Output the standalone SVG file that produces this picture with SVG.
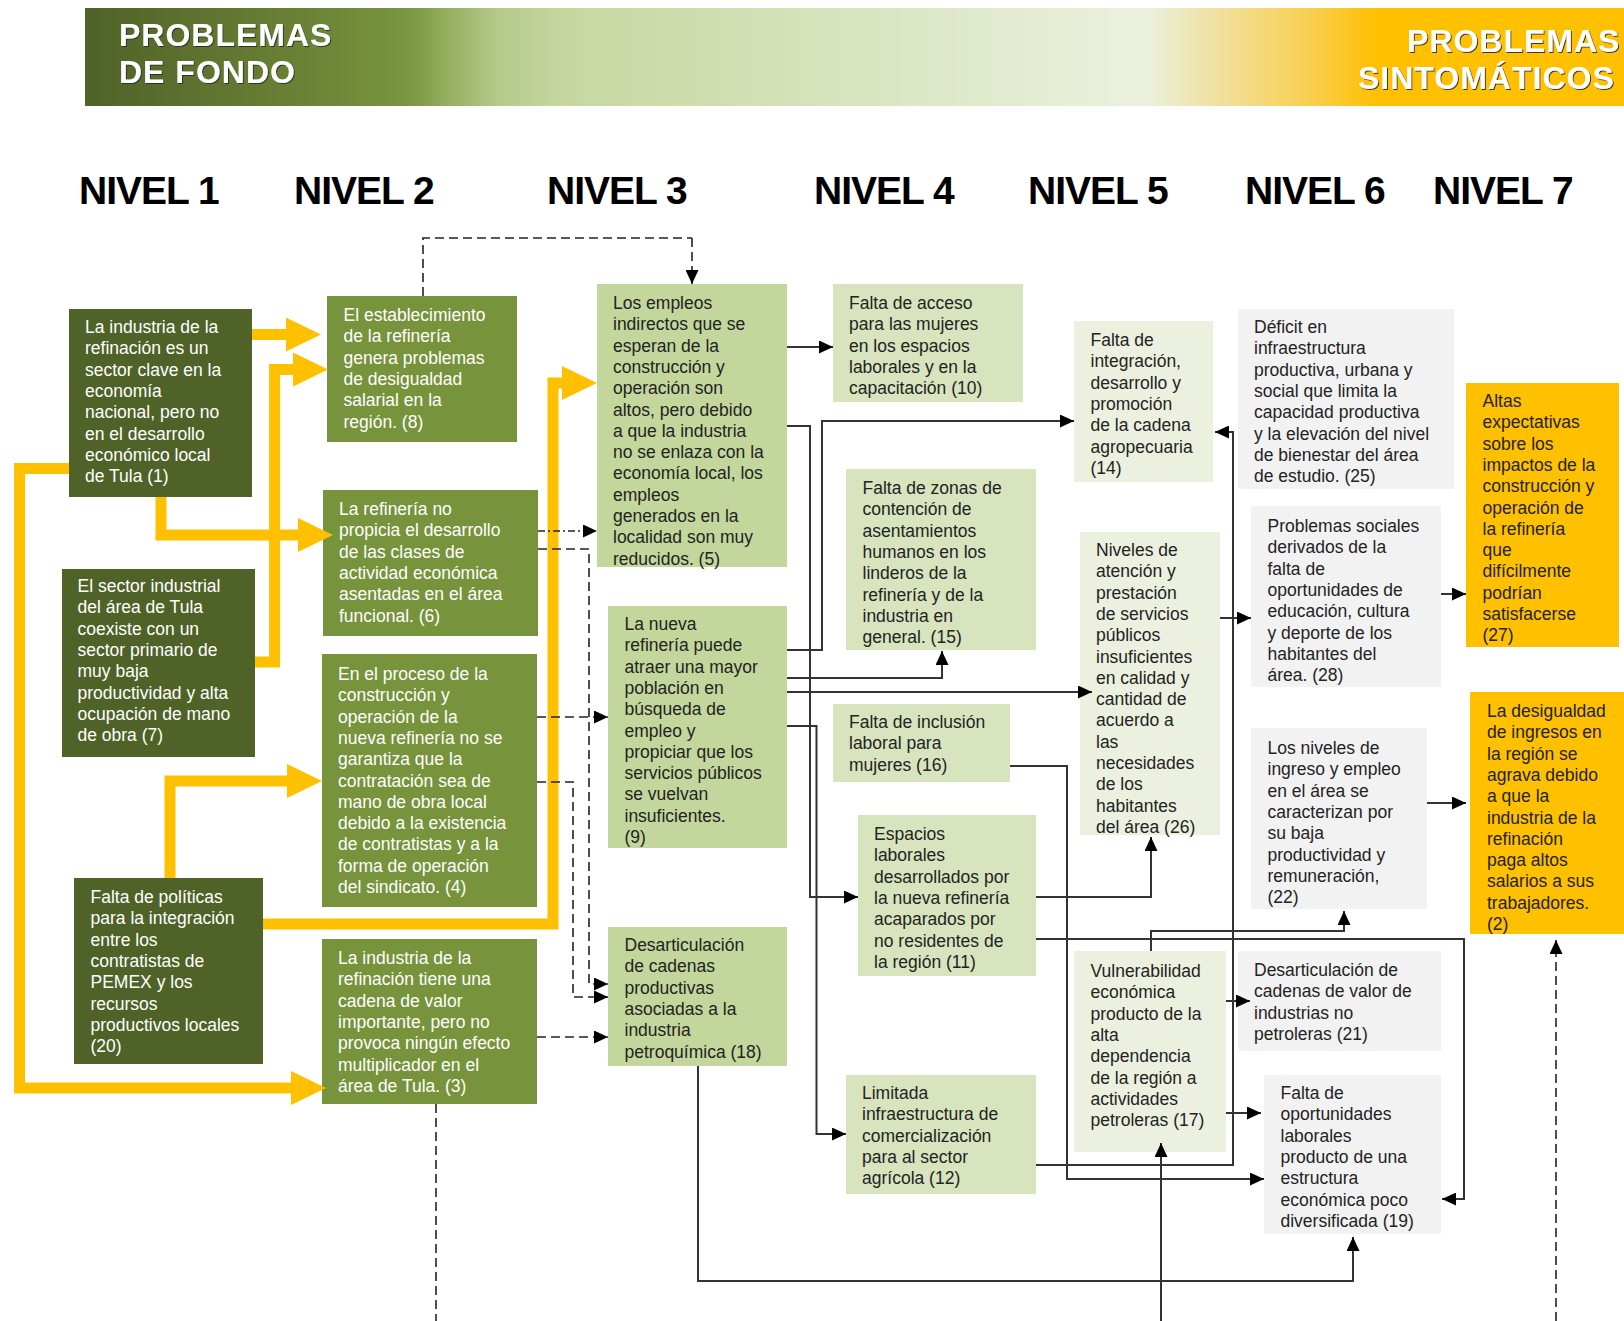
<svg xmlns="http://www.w3.org/2000/svg" width="1624" height="1321" viewBox="0 0 1624 1321">
<defs>
<linearGradient id="hdr" gradientUnits="userSpaceOnUse" x1="85" y1="0" x2="1624" y2="0">
<stop offset="0" stop-color="#4f6228"/>
<stop offset="0.15" stop-color="#6c8436"/>
<stop offset="0.21" stop-color="#7a9640"/>
<stop offset="0.234" stop-color="#93ad5c"/>
<stop offset="0.268" stop-color="#b5c98a"/>
<stop offset="0.312" stop-color="#c6d8a0"/>
<stop offset="0.48" stop-color="#d6e3bc"/>
<stop offset="0.69" stop-color="#ebf1de"/>
<stop offset="0.73" stop-color="#f0e2a6"/>
<stop offset="0.80" stop-color="#f9cd4a"/>
<stop offset="0.84" stop-color="#ffc000"/>
<stop offset="1" stop-color="#ffc000"/>
</linearGradient>
<marker id="ah" markerUnits="userSpaceOnUse" markerWidth="14" markerHeight="13" viewBox="0 0 14 13" refX="14" refY="6.5" orient="auto">
<path d="M0,0 L14,6.5 L0,13 z" fill="#000"/>
</marker>
<marker id="yh" markerUnits="userSpaceOnUse" markerWidth="35" markerHeight="34" viewBox="0 -17 35 34" refX="0" refY="0" orient="auto">
<path d="M0,-17 L35,0 L0,17 z" fill="#ffc000"/>
</marker>
<filter id="sh" x="-5%" y="-20%" width="110%" height="140%">
<feDropShadow dx="1" dy="1" stdDeviation="0.6" flood-color="#2a2a2a" flood-opacity="0.9"/>
</filter>
</defs>
<style>
.t{font-family:"Liberation Sans",Arial,sans-serif;font-size:17.5px}
.w{fill:#ffffff}
.k{fill:#232323}
.dk{fill:#4f6228}
.md{fill:#77933c}
.lg{fill:#c3d69b}
.lg2{fill:#d7e4bd}
.vlg{fill:#ebf1de}
.gr{fill:#f2f2f2}
.gd{fill:#ffc000}
.hd{font-family:"Liberation Sans",Arial,sans-serif;font-weight:bold;font-size:32px;fill:#ffffff;letter-spacing:1px;filter:url(#sh)}
.lv{font-family:"Liberation Sans",Arial,sans-serif;font-weight:bold;font-size:39px;letter-spacing:-1px;fill:#000}
.c{fill:none;stroke:#333;stroke-width:2;marker-end:url(#ah)}
.d{fill:none;stroke:#222;stroke-width:1.6;stroke-dasharray:9 5;marker-end:url(#ah)}
.dn{fill:none;stroke:#222;stroke-width:1.6;stroke-dasharray:9 5}
.dd{fill:none;stroke:#222;stroke-width:1.6;stroke-dasharray:7 3 2 3;marker-end:url(#ah)}
.y{fill:none;stroke:#ffc000;stroke-width:11;stroke-linejoin:miter;marker-end:url(#yh)}
</style>
<rect width="1624" height="1321" fill="#ffffff"/>
<g id="header">
<rect x="85" y="8" width="1539" height="98" fill="url(#hdr)"/>
<text class="hd" x="119" y="46">PROBLEMAS</text>
<text class="hd" x="119" y="83">DE FONDO</text>
<text class="hd" x="1407" y="52">PROBLEMAS</text>
<text class="hd" x="1358" y="89">SINTOMÁTICOS</text>
</g>
<g id="levels">
<text class="lv" x="79" y="204">NIVEL 1</text>
<text class="lv" x="294" y="204">NIVEL 2</text>
<text class="lv" x="547" y="204">NIVEL 3</text>
<text class="lv" x="814" y="204">NIVEL 4</text>
<text class="lv" x="1028" y="204">NIVEL 5</text>
<text class="lv" x="1245" y="204">NIVEL 6</text>
<text class="lv" x="1433" y="204">NIVEL 7</text>
</g>
<g id="nodes">
<g id="n1"><rect class="dk" x="69" y="309" width="183" height="188"/>
<text class="t w" x="85" y="333"><tspan x="85">La industria de la</tspan><tspan x="85" dy="21.3">refinación es un</tspan><tspan x="85" dy="21.3">sector clave  en la</tspan><tspan x="85" dy="21.3">economía</tspan><tspan x="85" dy="21.3">nacional, pero no</tspan><tspan x="85" dy="21.3">en el desarrollo</tspan><tspan x="85" dy="21.3">económico local</tspan><tspan x="85" dy="21.3">de Tula  (1)</tspan></text></g>
<g id="n8"><rect class="md" x="327" y="296" width="190" height="146"/>
<text class="t w" x="343.5" y="321"><tspan x="343.5">El establecimiento</tspan><tspan x="343.5" dy="21.3">de la refinería</tspan><tspan x="343.5" dy="21.3">genera problemas</tspan><tspan x="343.5" dy="21.3">de desigualdad</tspan><tspan x="343.5" dy="21.3">salarial en la</tspan><tspan x="343.5" dy="21.3">región.  (8)</tspan></text></g>
<g id="n6"><rect class="md" x="323" y="490" width="215" height="146"/>
<text class="t w" x="339" y="515"><tspan x="339">La refinería no</tspan><tspan x="339" dy="21.3">propicia el desarrollo</tspan><tspan x="339" dy="21.3">de las clases de</tspan><tspan x="339" dy="21.3">actividad económica</tspan><tspan x="339" dy="21.3">asentadas en el área</tspan><tspan x="339" dy="21.3">funcional.   (6)</tspan></text></g>
<g id="n7"><rect class="dk" x="62" y="569" width="193" height="188"/>
<text class="t w" x="77.5" y="592"><tspan x="77.5">El sector industrial</tspan><tspan x="77.5" dy="21.3">del área de Tula</tspan><tspan x="77.5" dy="21.3">coexiste con un</tspan><tspan x="77.5" dy="21.3">sector primario de</tspan><tspan x="77.5" dy="21.3">muy baja</tspan><tspan x="77.5" dy="21.3">productividad y alta</tspan><tspan x="77.5" dy="21.3">ocupación de mano</tspan><tspan x="77.5" dy="21.3">de obra (7)</tspan></text></g>
<g id="n4"><rect class="md" x="322" y="654" width="215" height="253"/>
<text class="t w" x="338" y="680"><tspan x="338">En el proceso de la</tspan><tspan x="338" dy="21.3">construcción y</tspan><tspan x="338" dy="21.3">operación  de la</tspan><tspan x="338" dy="21.3">nueva refinería no se</tspan><tspan x="338" dy="21.3">garantiza que la</tspan><tspan x="338" dy="21.3">contratación sea de</tspan><tspan x="338" dy="21.3">mano de obra local</tspan><tspan x="338" dy="21.3">debido a la existencia</tspan><tspan x="338" dy="21.3">de contratistas  y a la</tspan><tspan x="338" dy="21.3">forma de operación</tspan><tspan x="338" dy="21.3">del sindicato. (4)</tspan></text></g>
<g id="n20"><rect class="dk" x="74" y="878" width="189" height="186"/>
<text class="t w" x="90.5" y="903"><tspan x="90.5">Falta de políticas</tspan><tspan x="90.5" dy="21.3">para la integración</tspan><tspan x="90.5" dy="21.3">entre los</tspan><tspan x="90.5" dy="21.3">contratistas de</tspan><tspan x="90.5" dy="21.3">PEMEX y los</tspan><tspan x="90.5" dy="21.3">recursos</tspan><tspan x="90.5" dy="21.3">productivos locales</tspan><tspan x="90.5" dy="21.3">(20)</tspan></text></g>
<g id="n3"><rect class="md" x="322" y="939" width="215" height="165"/>
<text class="t w" x="338" y="964"><tspan x="338">La industria de la</tspan><tspan x="338" dy="21.3">refinación tiene una</tspan><tspan x="338" dy="21.3">cadena de valor</tspan><tspan x="338" dy="21.3">importante, pero no</tspan><tspan x="338" dy="21.3">provoca ningún efecto</tspan><tspan x="338" dy="21.3">multiplicador en el</tspan><tspan x="338" dy="21.3">área de Tula.  (3)</tspan></text></g>
<g id="n5"><rect class="lg" x="597" y="284" width="190" height="283"/>
<text class="t k" x="613" y="309"><tspan x="613">Los empleos</tspan><tspan x="613" dy="21.3">indirectos que se</tspan><tspan x="613" dy="21.3">esperan de la</tspan><tspan x="613" dy="21.3">construcción y</tspan><tspan x="613" dy="21.3">operación son</tspan><tspan x="613" dy="21.3">altos, pero debido</tspan><tspan x="613" dy="21.3">a que la industria</tspan><tspan x="613" dy="21.3">no se enlaza con la</tspan><tspan x="613" dy="21.3">economía local, los</tspan><tspan x="613" dy="21.3">empleos</tspan><tspan x="613" dy="21.3">generados en la</tspan><tspan x="613" dy="21.3">localidad son muy</tspan><tspan x="613" dy="21.3">reducidos.  (5)</tspan></text></g>
<g id="n9"><rect class="lg" x="608" y="606" width="179" height="242"/>
<text class="t k" x="624.5" y="630"><tspan x="624.5">La nueva</tspan><tspan x="624.5" dy="21.3">refinería puede</tspan><tspan x="624.5" dy="21.3">atraer una mayor</tspan><tspan x="624.5" dy="21.3">población en</tspan><tspan x="624.5" dy="21.3">búsqueda de</tspan><tspan x="624.5" dy="21.3">empleo y</tspan><tspan x="624.5" dy="21.3">propiciar que los</tspan><tspan x="624.5" dy="21.3">servicios públicos</tspan><tspan x="624.5" dy="21.3">se vuelvan</tspan><tspan x="624.5" dy="21.3">insuficientes.</tspan><tspan x="624.5" dy="21.3">(9)</tspan></text></g>
<g id="n18"><rect class="lg" x="608" y="927" width="179" height="139"/>
<text class="t k" x="624.5" y="951"><tspan x="624.5">Desarticulación</tspan><tspan x="624.5" dy="21.3">de cadenas</tspan><tspan x="624.5" dy="21.3">productivas</tspan><tspan x="624.5" dy="21.3">asociadas a la</tspan><tspan x="624.5" dy="21.3">industria</tspan><tspan x="624.5" dy="21.3">petroquímica (18)</tspan></text></g>
<g id="n10"><rect class="lg2" x="833" y="284" width="190" height="118"/>
<text class="t k" x="849" y="309"><tspan x="849">Falta de acceso</tspan><tspan x="849" dy="21.3">para las mujeres</tspan><tspan x="849" dy="21.3">en los espacios</tspan><tspan x="849" dy="21.3">laborales y en la</tspan><tspan x="849" dy="21.3">capacitación (10)</tspan></text></g>
<g id="n15"><rect class="lg2" x="846" y="469" width="190" height="181"/>
<text class="t k" x="862.5" y="494"><tspan x="862.5">Falta de zonas de</tspan><tspan x="862.5" dy="21.3">contención de</tspan><tspan x="862.5" dy="21.3">asentamientos</tspan><tspan x="862.5" dy="21.3">humanos en los</tspan><tspan x="862.5" dy="21.3">linderos de la</tspan><tspan x="862.5" dy="21.3">refinería y de la</tspan><tspan x="862.5" dy="21.3">industria en</tspan><tspan x="862.5" dy="21.3">general. (15)</tspan></text></g>
<g id="n16"><rect class="lg2" x="833" y="704" width="177" height="78"/>
<text class="t k" x="849" y="728"><tspan x="849">Falta de inclusión</tspan><tspan x="849" dy="21.3">laboral para</tspan><tspan x="849" dy="21.3">mujeres (16)</tspan></text></g>
<g id="n11"><rect class="lg2" x="858" y="815" width="178" height="161"/>
<text class="t k" x="874" y="840"><tspan x="874">Espacios</tspan><tspan x="874" dy="21.3">laborales</tspan><tspan x="874" dy="21.3">desarrollados por</tspan><tspan x="874" dy="21.3">la nueva refinería</tspan><tspan x="874" dy="21.3">acaparados por</tspan><tspan x="874" dy="21.3">no residentes de</tspan><tspan x="874" dy="21.3">la región   (11)</tspan></text></g>
<g id="n12"><rect class="lg2" x="846" y="1075" width="190" height="119"/>
<text class="t k" x="862" y="1099"><tspan x="862">Limitada</tspan><tspan x="862" dy="21.3">infraestructura de</tspan><tspan x="862" dy="21.3">comercialización</tspan><tspan x="862" dy="21.3">para al sector</tspan><tspan x="862" dy="21.3">agrícola  (12)</tspan></text></g>
<g id="n14"><rect class="vlg" x="1074" y="321" width="139" height="161"/>
<text class="t k" x="1090.5" y="346"><tspan x="1090.5">Falta de</tspan><tspan x="1090.5" dy="21.3">integración,</tspan><tspan x="1090.5" dy="21.3">desarrollo y</tspan><tspan x="1090.5" dy="21.3">promoción</tspan><tspan x="1090.5" dy="21.3">de la cadena</tspan><tspan x="1090.5" dy="21.3">agropecuaria</tspan><tspan x="1090.5" dy="21.3">(14)</tspan></text></g>
<g id="n26"><rect class="vlg" x="1080" y="532" width="140" height="303"/>
<text class="t k" x="1096" y="556"><tspan x="1096">Niveles de</tspan><tspan x="1096" dy="21.3">atención y</tspan><tspan x="1096" dy="21.3">prestación</tspan><tspan x="1096" dy="21.3">de servicios</tspan><tspan x="1096" dy="21.3">públicos</tspan><tspan x="1096" dy="21.3">insuficientes</tspan><tspan x="1096" dy="21.3">en calidad y</tspan><tspan x="1096" dy="21.3">cantidad de</tspan><tspan x="1096" dy="21.3">acuerdo a</tspan><tspan x="1096" dy="21.3">las</tspan><tspan x="1096" dy="21.3">necesidades</tspan><tspan x="1096" dy="21.3">de los</tspan><tspan x="1096" dy="21.3">habitantes</tspan><tspan x="1096" dy="21.3">del área (26)</tspan></text></g>
<g id="n17"><rect class="vlg" x="1074" y="951" width="152" height="201"/>
<text class="t k" x="1090.5" y="977"><tspan x="1090.5">Vulnerabilidad</tspan><tspan x="1090.5" dy="21.3">económica</tspan><tspan x="1090.5" dy="21.3">producto de la</tspan><tspan x="1090.5" dy="21.3">alta</tspan><tspan x="1090.5" dy="21.3">dependencia</tspan><tspan x="1090.5" dy="21.3">de la región a</tspan><tspan x="1090.5" dy="21.3">actividades</tspan><tspan x="1090.5" dy="21.3">petroleras (17)</tspan></text></g>
<g id="n25"><rect class="gr" x="1238" y="309" width="216" height="180"/>
<text class="t k" x="1254" y="333"><tspan x="1254">Déficit en</tspan><tspan x="1254" dy="21.3">infraestructura</tspan><tspan x="1254" dy="21.3">productiva, urbana y</tspan><tspan x="1254" dy="21.3">social que limita la</tspan><tspan x="1254" dy="21.3">capacidad productiva</tspan><tspan x="1254" dy="21.3">y la elevación del nivel</tspan><tspan x="1254" dy="21.3">de bienestar del área</tspan><tspan x="1254" dy="21.3">de estudio. (25)</tspan></text></g>
<g id="n28"><rect class="gr" x="1251" y="506" width="190" height="181"/>
<text class="t k" x="1267.5" y="532"><tspan x="1267.5">Problemas sociales</tspan><tspan x="1267.5" dy="21.3">derivados de la</tspan><tspan x="1267.5" dy="21.3">falta de</tspan><tspan x="1267.5" dy="21.3">oportunidades de</tspan><tspan x="1267.5" dy="21.3">educación, cultura</tspan><tspan x="1267.5" dy="21.3">y deporte de los</tspan><tspan x="1267.5" dy="21.3">habitantes del</tspan><tspan x="1267.5" dy="21.3">área. (28)</tspan></text></g>
<g id="n22"><rect class="gr" x="1251" y="728" width="176" height="181"/>
<text class="t k" x="1267.5" y="754"><tspan x="1267.5">Los niveles de</tspan><tspan x="1267.5" dy="21.3">ingreso y empleo</tspan><tspan x="1267.5" dy="21.3">en el área se</tspan><tspan x="1267.5" dy="21.3">caracterizan por</tspan><tspan x="1267.5" dy="21.3">su baja</tspan><tspan x="1267.5" dy="21.3">productividad y</tspan><tspan x="1267.5" dy="21.3">remuneración,</tspan><tspan x="1267.5" dy="21.3">(22)</tspan></text></g>
<g id="n21"><rect class="gr" x="1238" y="951" width="203" height="100"/>
<text class="t k" x="1254" y="976"><tspan x="1254">Desarticulación de</tspan><tspan x="1254" dy="21.3">cadenas de valor de</tspan><tspan x="1254" dy="21.3">industrias no</tspan><tspan x="1254" dy="21.3">petroleras (21)</tspan></text></g>
<g id="n19"><rect class="gr" x="1264" y="1075" width="177" height="159"/>
<text class="t k" x="1280.5" y="1099"><tspan x="1280.5">Falta de</tspan><tspan x="1280.5" dy="21.3">oportunidades</tspan><tspan x="1280.5" dy="21.3">laborales</tspan><tspan x="1280.5" dy="21.3">producto de una</tspan><tspan x="1280.5" dy="21.3">estructura</tspan><tspan x="1280.5" dy="21.3">económica poco</tspan><tspan x="1280.5" dy="21.3">diversificada (19)</tspan></text></g>
<g id="n27"><rect class="gd" x="1466" y="383" width="153" height="264"/>
<text class="t k" x="1482.5" y="407"><tspan x="1482.5">Altas</tspan><tspan x="1482.5" dy="21.3">expectativas</tspan><tspan x="1482.5" dy="21.3">sobre los</tspan><tspan x="1482.5" dy="21.3">impactos de la</tspan><tspan x="1482.5" dy="21.3">construcción y</tspan><tspan x="1482.5" dy="21.3">operación de</tspan><tspan x="1482.5" dy="21.3">la refinería</tspan><tspan x="1482.5" dy="21.3">que</tspan><tspan x="1482.5" dy="21.3">difícilmente</tspan><tspan x="1482.5" dy="21.3">podrían</tspan><tspan x="1482.5" dy="21.3">satisfacerse</tspan><tspan x="1482.5" dy="21.3">(27)</tspan></text></g>
<g id="n2"><rect class="gd" x="1470" y="692" width="154" height="242"/>
<text class="t k" x="1487" y="717"><tspan x="1487">La desigualdad</tspan><tspan x="1487" dy="21.3">de ingresos en</tspan><tspan x="1487" dy="21.3">la región se</tspan><tspan x="1487" dy="21.3">agrava debido</tspan><tspan x="1487" dy="21.3">a que la</tspan><tspan x="1487" dy="21.3">industria de la</tspan><tspan x="1487" dy="21.3">refinación</tspan><tspan x="1487" dy="21.3">paga altos</tspan><tspan x="1487" dy="21.3">salarios a sus</tspan><tspan x="1487" dy="21.3">trabajadores.</tspan><tspan x="1487" dy="21.3">(2)</tspan></text></g>
</g>
<g id="connectors">
<path class="y" d="M252,334.6 H286"/>
<path class="y" d="M255,662 H274.6 V369.5 H293"/>
<path class="y" d="M161,497 V535 H298"/>
<path class="y" d="M69,468.6 H19.6 V1088 H291"/>
<path class="y" d="M170,878 V781 H287"/>
<path class="y" d="M263,924 H553 V383 H562"/>
<path class="dn" d="M423,296 V238 H692"/>
<path class="d" d="M692,238 V284"/>
<path class="dd" d="M538,531 H597"/>
<path class="d" d="M538,549 H589 V984 H608"/>
<path class="d" d="M537,717 H608"/>
<path class="d" d="M537,782 H573 V997 H608"/>
<path class="d" d="M537,1037 H608"/>
<path class="dn" d="M436,1104 V1321"/>
<path class="d" d="M1556,1321 V940"/>
<path class="c" d="M787,347 H833"/>
<path class="c" d="M787,426 H810 V897 H858"/>
<path class="c" d="M787,726 H816.5 V1134 H846"/>
<path class="c" d="M787,650 H822 V421 H1074"/>
<path class="c" d="M787,678 H942 V651"/>
<path class="c" d="M787,692 H1092"/>
<path class="c" d="M1010,766 H1067 V1179 H1264"/>
<path class="c" d="M1036,897 H1151 V837"/>
<path class="c" d="M1036,939 H1464 V1199 H1442"/>
<path class="c" d="M1036,1165 H1233 V432 H1215"/>
<path class="c" d="M1220,618 H1251"/>
<path class="c" d="M1441,594 H1466"/>
<path class="c" d="M1427,803 H1466"/>
<path class="c" d="M1151,951 V931 H1344 V911"/>
<path class="c" d="M1226,1001 H1250"/>
<path class="c" d="M1226,1113 H1261"/>
<path class="c" d="M1161,1321 V1143"/>
<path class="c" d="M698,1066 V1281 H1353 V1237"/>
</g>
</svg>
